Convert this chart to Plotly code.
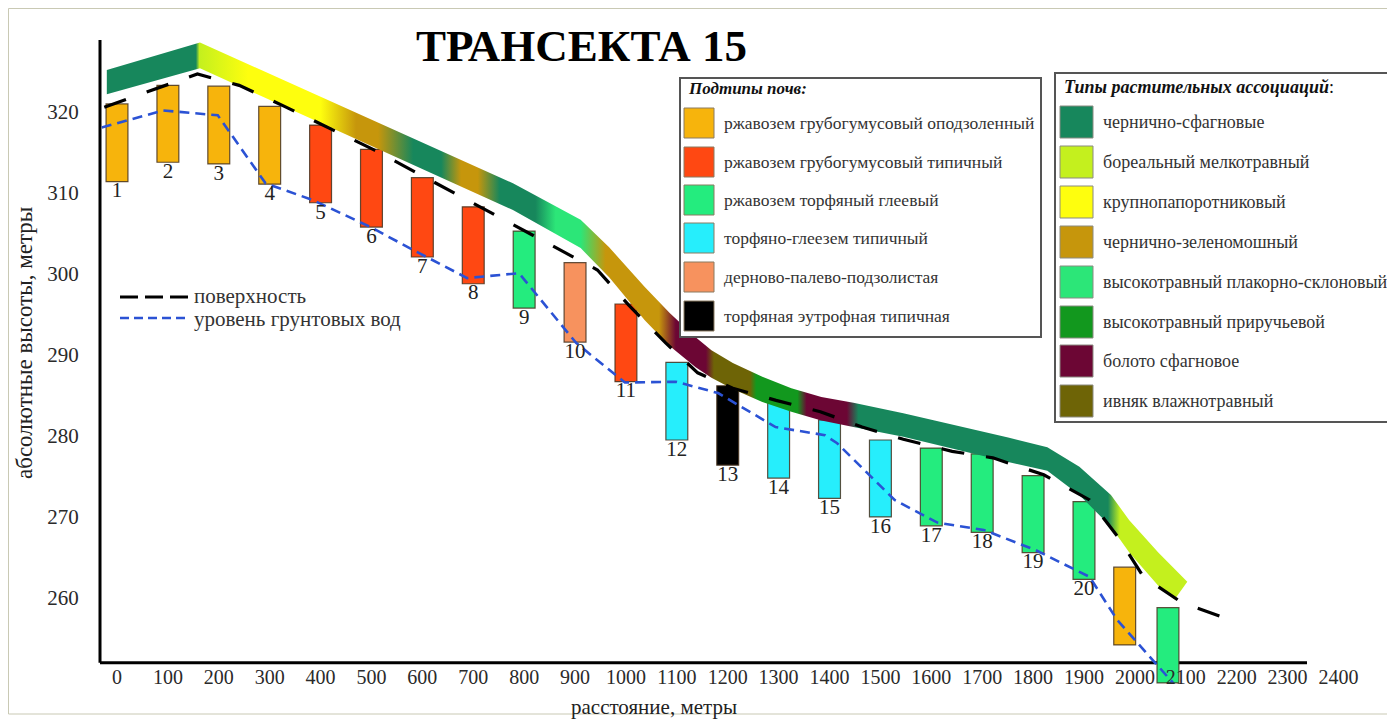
import plotly.graph_objects as go

# ---------------- data ----------------
# soil profiles (pits): distance along transect, top and bottom of profile (m a.s.l.)
bar_x = [0, 100, 200, 300, 400, 500, 600, 700, 800, 900, 1000, 1100, 1200, 1300,
         1400, 1500, 1600, 1700, 1800, 1900, 1980, 2065]
bar_top = [321.0, 323.3, 323.2, 320.7, 318.4, 315.4, 311.9, 308.3, 305.3, 301.4, 296.3,
           289.1, 286.2, 284.3, 282.0, 279.5, 278.5, 277.8, 275.1, 271.9, 263.8, 258.8]
bar_bottom = [311.4, 313.8, 313.6, 311.1, 308.8, 305.8, 302.1, 298.8, 295.8, 291.6, 286.7,
              279.5, 276.4, 274.8, 272.3, 270.0, 268.9, 268.1, 265.6, 262.3, 254.2, 249.5]
bar_soil = [0, 0, 0, 0, 1, 1, 1, 1, 2, 4, 1, 3, 5, 3, 3, 3, 2, 2, 2, 2, 0, 2]
bar_labels = ["1", "2", "3", "4", "5", "6", "7", "8", "9", "10", "11", "12", "13", "14",
              "15", "16", "17", "18", "19", "20", "", ""]

soil_names = ["ржавозем грубогумусовый оподзоленный", "ржавозем грубогумусовый типичный",
              "ржавозем торфяный глеевый", "торфяно-глеезем типичный",
              "дерново-палево-подзолистая", "торфяная эутрофная типичная"]
soil_colors = ["#f7b40c", "#ff4812", "#24ec7e", "#26eefc", "#f7925e", "#000000"]

veg_names = ["чернично-сфагновые", "бореальный мелкотравный", "крупнопапоротниковый",
             "чернично-зеленомошный", "высокотравный плакорно-склоновый",
             "высокотравный приручьевой", "болото сфагновое", "ивняк влажнотравный"]
veg_colors = ["#17875c", "#c4f01e", "#fefe0e", "#c6960c", "#2ce678", "#12981e",
              "#6c0634", "#6e6406"]

# ground surface
surface_x = [-25, 158, 240, 329, 506, 690, 862, 944, 1005, 1078, 1141, 1210, 1295, 1382,
             1464, 1545, 1641, 1721, 1821, 1911, 1967, 2017, 2093, 2182]
surface_v = [320.6, 324.7, 323.3, 320.7, 315.3, 309.1, 303.2, 300.5, 296.2, 291.5, 287.8,
             285.9, 284.4, 283.0, 281.1, 279.6, 278.1, 277.3, 275.2, 272.1, 267.5, 262.6,
             259.4, 257.4]

# groundwater level
gw_x = [-30, 91, 198, 292, 386, 498, 590, 688, 790, 902, 998, 1098, 1181, 1294, 1391,
        1415, 1528, 1612, 1703, 1805, 1911, 1965, 2075]
gw_v = [318.1, 320.2, 319.6, 311.2, 309.1, 305.8, 302.7, 299.5, 300.1, 291.5, 286.6,
        286.7, 285.3, 281.1, 280.1, 279.1, 272.1, 269.3, 268.4, 265.9, 262.6, 257.3, 249.5]

# vegetation ribbon (upper and lower edges)
band_top_x = [-20, 163, 778, 911, 967, 1037, 1086, 1137, 1168, 1210, 1268, 1325, 1384,
              1447, 1545, 1629, 1751, 1828, 1891, 1953, 1989, 2046, 2103]
band_top_v = [325.2, 328.6, 311.2, 306.7, 303.3, 298.4, 295.2, 292.2, 290.6, 289.0, 287.3,
              285.9, 284.8, 284.1, 282.8, 281.6, 279.8, 278.6, 276.2, 272.7, 269.6, 265.6,
              262.0]
band_bottom_x = [-20, 163, 778, 911, 967, 1037, 1086, 1137, 1168, 1210, 1268, 1325, 1384,
                 1447, 1545, 1629, 1751, 1828, 1891, 1953, 1989, 2046, 2078]
band_bottom_v = [322.2, 325.4, 307.9, 303.2, 299.6, 294.3, 291.1, 288.5, 287.2, 285.8,
                 284.2, 283.0, 281.9, 281.1, 279.9, 278.6, 276.8, 275.7, 272.7, 268.8,
                 265.6, 261.5, 259.8]
# colour zones along the ribbon: distance -> vegetation type
band_zone_x = [-20, 155, 162, 258, 400, 470, 513, 582, 637, 676, 709, 752, 822, 862, 911,
               960, 1065, 1098, 1157, 1173, 1244, 1256, 1337, 1355, 1434, 1457, 1947,
               1971, 2103]
band_zone_veg = [0, 0, 1, 2, 2, 3, 3, 0, 0, 3, 3, 0, 0, 4, 4, 3, 3, 6, 6, 7, 7, 5, 5, 6,
                 6, 0, 0, 1, 1]

x_ticks = list(range(0, 2401, 100))
y_ticks = [260, 270, 280, 290, 300, 310, 320]

# ---------------- layout geometry ----------------
OFF = 8                      # page body margin of the browser
W, H = 1395 - OFF, 719 - OFF
L, R, T, B = 100, 1341, 40, 687          # plot area in page pixels
ML, MR, MT, MB = L - OFF, 1395 - R, T - OFF, 719 - B
X_RANGE = [-33.4, 2405]
Y_RANGE = [249.0, 328.9]
AXIS_Y = 252.0
SERIF = "Liberation Serif, Times New Roman, serif"
AXPOS = (AXIS_Y - Y_RANGE[0]) / (Y_RANGE[1] - Y_RANGE[0])


def fx(px):
    return (px - L) / (R - L)


def fy(py):
    return (B - py) / (B - T)


fig = go.Figure()

# vegetation ribbon with horizontal gradient
poly_x = band_top_x + band_bottom_x[::-1]
poly_y = band_top_v + band_bottom_v[::-1]
x0b, x1b = min(poly_x), max(poly_x)
cscale = [[(zx - x0b) / (x1b - x0b), veg_colors[v]] for zx, v in zip(band_zone_x, band_zone_veg)]
cscale[0][0] = 0.0
cscale[-1][0] = 1.0
fig.add_trace(go.Scatter(
    x=poly_x, y=poly_y, mode="lines", fill="toself",
    line=dict(width=0, color="rgba(0,0,0,0)"),
    fillgradient=dict(type="horizontal", colorscale=cscale, start=x0b, stop=x1b),
    hoverinfo="skip", showlegend=False))

# soil profiles
fig.add_trace(go.Bar(
    x=bar_x, y=[t - b for t, b in zip(bar_top, bar_bottom)], base=bar_bottom, width=43,
    marker=dict(color=[soil_colors[s] for s in bar_soil],
                line=dict(color="rgba(70,50,30,0.85)", width=1.2)),
    showlegend=False, hoverinfo="skip"))

# surface and groundwater
fig.add_trace(go.Scatter(x=surface_x, y=surface_v, mode="lines",
                         line=dict(color="black", width=3.2, dash="23px,22px"),
                         showlegend=False, hoverinfo="skip"))
fig.add_trace(go.Scatter(x=gw_x, y=gw_v, mode="lines",
                         line=dict(color="#2b52d4", width=2.6, dash="10px,6px"),
                         showlegend=False, hoverinfo="skip"))

# profile numbers
fig.add_trace(go.Scatter(x=bar_x, y=bar_bottom, mode="text", text=bar_labels,
                         textposition="bottom center",
                         textfont=dict(family=SERIF, size=21, color="#222"),
                         showlegend=False, hoverinfo="skip", cliponaxis=False))

shapes = []
annotations = []

# thin frame of the sheet
shapes.append(dict(type="rect", xref="paper", yref="paper", x0=fx(8.5), x1=fx(1400),
                   y0=fy(714), y1=fy(8.5), fillcolor="white",
                   line=dict(color="#c9c9b4", width=1), layer="below"))
# axis lines
shapes.append(dict(type="line", xref="paper", yref="paper", x0=0, x1=0,
                   y0=AXPOS, y1=1, line=dict(color="black", width=3), layer="below"))
shapes.append(dict(type="line", xref="paper", yref="paper", x0=0, x1=fx(1307),
                   y0=AXPOS, y1=AXPOS, line=dict(color="black", width=3), layer="below"))

# title
annotations.append(dict(x=fx(581), y=fy(46), xref="paper", yref="paper",
                        text="<b>ТРАНСЕКТА 15</b>", showarrow=False,
                        font=dict(family=SERIF, size=45, color="black"),
                        xanchor="center", yanchor="middle"))

# axis titles
annotations.append(dict(x=fx(25), y=fy(343), xref="paper", yref="paper",
                        text="абсолютные высоты, метры", showarrow=False, textangle=-90,
                        font=dict(family=SERIF, size=23, color="#222"),
                        xanchor="center", yanchor="middle"))
annotations.append(dict(x=fx(654), y=fy(707), xref="paper", yref="paper",
                        text="расстояние, метры", showarrow=False,
                        font=dict(family=SERIF, size=21, color="#222"),
                        xanchor="center", yanchor="middle"))

# line legend
shapes.append(dict(type="line", xref="paper", yref="paper", x0=fx(120), x1=fx(188),
                   y0=fy(297), y1=fy(297), line=dict(color="black", width=3, dash="18px,7px")))
shapes.append(dict(type="line", xref="paper", yref="paper", x0=fx(120), x1=fx(188),
                   y0=fy(318), y1=fy(318), line=dict(color="#2b52d4", width=2.5, dash="9px,5px")))
annotations.append(dict(x=fx(192), y=fy(296), xref="paper", yref="paper", text="поверхность",
                        showarrow=False, xanchor="left", yanchor="middle",
                        font=dict(family=SERIF, size=21, color="#333")))
annotations.append(dict(x=fx(192), y=fy(319), xref="paper", yref="paper",
                        text="уровень грунтовых вод", showarrow=False, xanchor="left",
                        yanchor="middle", font=dict(family=SERIF, size=21, color="#333")))

# soil legend box
shapes.append(dict(type="rect", xref="paper", yref="paper", x0=fx(680), x1=fx(1041),
                   y0=fy(337), y1=fy(78), fillcolor="white",
                   line=dict(color="#555", width=2)))
annotations.append(dict(x=fx(686), y=fy(89), xref="paper", yref="paper",
                        text="<b><i>Подтипы почв:</i></b>", showarrow=False,
                        xanchor="left", yanchor="middle",
                        font=dict(family=SERIF, size=17, color="#111")))
soil_rows = [123, 162, 200, 238, 277, 316]
for name, col, cy in zip(soil_names, soil_colors, soil_rows):
    shapes.append(dict(type="rect", xref="paper", yref="paper", x0=fx(684), x1=fx(714),
                       y0=fy(cy + 15), y1=fy(cy - 15), fillcolor=col,
                       line=dict(color="#8a7a60", width=1)))
    annotations.append(dict(x=fx(722), y=fy(cy), xref="paper", yref="paper", text=name,
                            showarrow=False, xanchor="left", yanchor="middle",
                            font=dict(family=SERIF, size=17.5, color="#333")))

# vegetation legend box
shapes.append(dict(type="rect", xref="paper", yref="paper", x0=fx(1055), x1=fx(1392),
                   y0=fy(422), y1=fy(73), fillcolor="white",
                   line=dict(color="#555", width=2)))
annotations.append(dict(x=fx(1062), y=fy(87), xref="paper", yref="paper",
                        text="<b><i>Типы растительных ассоциаций</i></b>:", showarrow=False,
                        xanchor="left", yanchor="middle",
                        font=dict(family=SERIF, size=18, color="#111")))
veg_rows = [122, 162, 202, 242, 282, 322, 361, 401]
for name, col, cy in zip(veg_names, veg_colors, veg_rows):
    shapes.append(dict(type="rect", xref="paper", yref="paper", x0=fx(1060), x1=fx(1093),
                       y0=fy(cy + 16), y1=fy(cy - 16), fillcolor=col,
                       line=dict(color="#8a8a80", width=1)))
    annotations.append(dict(x=fx(1101), y=fy(cy), xref="paper", yref="paper", text=name,
                            showarrow=False, xanchor="left", yanchor="middle",
                            font=dict(family=SERIF, size=18, color="#333")))

fig.update_layout(
    width=W, height=H,
    margin=dict(l=ML, r=MR, t=MT, b=MB, pad=0),
    paper_bgcolor="white",
    plot_bgcolor="rgba(0,0,0,0)",
    showlegend=False,
    xaxis=dict(range=X_RANGE, tickvals=x_ticks, ticktext=[str(v) for v in x_ticks],
               showline=False, showgrid=False, zeroline=False,
               anchor="free", position=AXPOS,
               ticks="", tickfont=dict(family=SERIF, size=20, color="#2a2a2a")),
    yaxis=dict(range=Y_RANGE, tickvals=y_ticks, showline=False, showgrid=False,
               zeroline=False, ticks="outside", ticklen=16, tickcolor="rgba(0,0,0,0)",
               tickfont=dict(family=SERIF, size=21, color="#2a2a2a")),
    shapes=shapes,
    annotations=annotations,
)

fig.write_html("out.html")
